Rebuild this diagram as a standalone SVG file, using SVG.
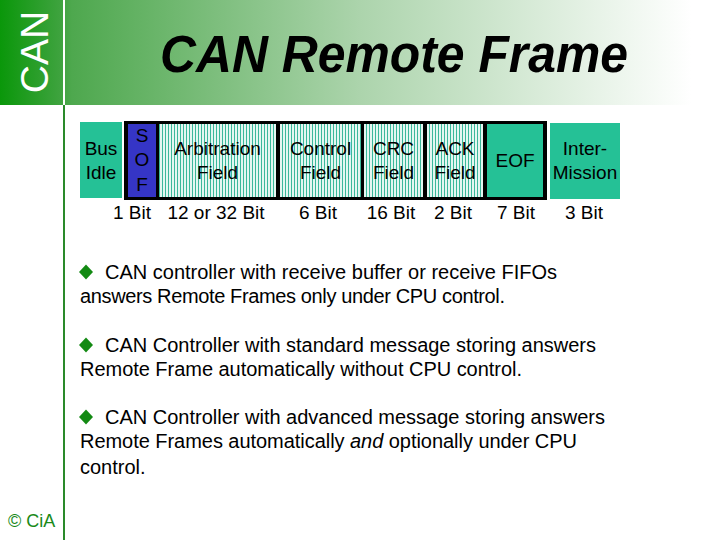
<svg xmlns="http://www.w3.org/2000/svg" width="720" height="540" viewBox="0 0 720 540">
<defs>
<linearGradient id="hdr" x1="0" y1="0" x2="720" y2="0" gradientUnits="userSpaceOnUse">
<stop offset="0" stop-color="#0a970a"/>
<stop offset="0.085" stop-color="#3fa33f"/>
<stop offset="0.1" stop-color="#4ea84e"/>
<stop offset="0.5" stop-color="#acd4ac"/>
<stop offset="0.96" stop-color="#ffffff"/>
</linearGradient>
<pattern id="hatch" x="0" y="0" width="3" height="10" patternUnits="userSpaceOnUse">
<rect width="3" height="10" fill="#e4f6f1"/>
<rect width="1" height="10" fill="#3bb89b"/>
</pattern>
<style>
text{font-family:"Liberation Sans",Arial,sans-serif;}
.t{font-size:19px;fill:#000;text-anchor:middle;}
.b{font-size:20px;fill:#000;}
.hatch{fill:url(#hatch);}
.teal{fill:#25c196;}
.dia{fill:#138a13;}
</style>
</defs>
<g id="header">
<rect x="0" y="0" width="720" height="105" fill="url(#hdr)"/>
<rect x="63" y="0" width="2" height="105" fill="#ffffff"/>
<rect x="63" y="105" width="2" height="435" fill="#2a8a2a"/>
<text transform="translate(48,52) rotate(-90)" x="0" y="0" text-anchor="middle" font-size="39" fill="#ffffff">CAN</text>
<text x="160" y="72" font-size="51" font-weight="bold" font-style="italic" fill="#000" textLength="468" lengthAdjust="spacingAndGlyphs">CAN Remote Frame</text>
</g>
<g id="bus-idle">
<rect class="teal" x="80" y="122" width="42" height="76"/>
<text class="t" x="101" y="155">Bus</text>
<text class="t" x="101" y="179">Idle</text>
</g>
<g id="frame">
<rect x="124" y="121" width="423" height="79" fill="#000"/>
</g>
<g id="sof">
<rect x="128" y="124" width="28" height="73" fill="#3535c6"/>
<text class="t" x="142" y="142">S</text>
<text class="t" x="142" y="166">O</text>
<text class="t" x="142" y="191">F</text>
</g>
<g id="arbitration">
<rect class="hatch" x="159" y="124" width="117" height="73"/>
<text class="t" x="217.5" y="155">Arbitration</text>
<text class="t" x="217.5" y="179">Field</text>
</g>
<g id="control">
<rect class="hatch" x="280" y="124" width="81" height="73"/>
<text class="t" x="320.5" y="155">Control</text>
<text class="t" x="320.5" y="179">Field</text>
</g>
<g id="crc">
<rect class="hatch" x="364" y="124" width="59" height="73"/>
<text class="t" x="393.5" y="155">CRC</text>
<text class="t" x="393.5" y="179">Field</text>
</g>
<g id="ack">
<rect class="hatch" x="427" y="124" width="56" height="73"/>
<text class="t" x="455" y="155">ACK</text>
<text class="t" x="455" y="179">Field</text>
</g>
<g id="eof">
<rect class="teal" x="487" y="124" width="56" height="73"/>
<text class="t" x="515" y="167">EOF</text>
</g>
<g id="intermission">
<rect class="teal" x="550" y="123" width="70" height="76"/>
<text class="t" x="585" y="155">Inter-</text>
<text class="t" x="585" y="179">Mission</text>
</g>
<g id="bit-labels">
<text class="t" x="132" y="219">1 Bit</text>
<text class="t" x="216" y="219">12 or 32 Bit</text>
<text class="t" x="318" y="219">6 Bit</text>
<text class="t" x="391" y="219">16 Bit</text>
<text class="t" x="453" y="219">2 Bit</text>
<text class="t" x="516" y="219">7 Bit</text>
<text class="t" x="584" y="219">3 Bit</text>
</g>
<g id="bullet1">
<polygon class="dia" points="86,264.5 93,272 86,279.5 79,272"/>
<text class="b" x="105" y="279" textLength="452">CAN controller with receive buffer or receive FIFOs</text>
<text class="b" x="80" y="303" textLength="425">answers Remote Frames only under CPU control.</text>
</g>
<g id="bullet2">
<polygon class="dia" points="86,337.5 93,345 86,352.5 79,345"/>
<text class="b" x="105" y="352" textLength="491">CAN Controller with standard message storing answers</text>
<text class="b" x="80" y="376" textLength="442">Remote Frame automatically without CPU control.</text>
</g>
<g id="bullet3">
<polygon class="dia" points="86,409.5 93,417 86,424.5 79,417"/>
<text class="b" x="105" y="424" textLength="500">CAN Controller with advanced message storing answers</text>
<text class="b" x="80" y="448" textLength="497">Remote Frames automatically <tspan font-style="italic">and</tspan> optionally under CPU</text>
<text class="b" x="80" y="474">control.</text>
</g>
<g id="copyright">
<text x="8" y="527" font-size="18" fill="#1a8a1a">© CiA</text>
</g>
</svg>
